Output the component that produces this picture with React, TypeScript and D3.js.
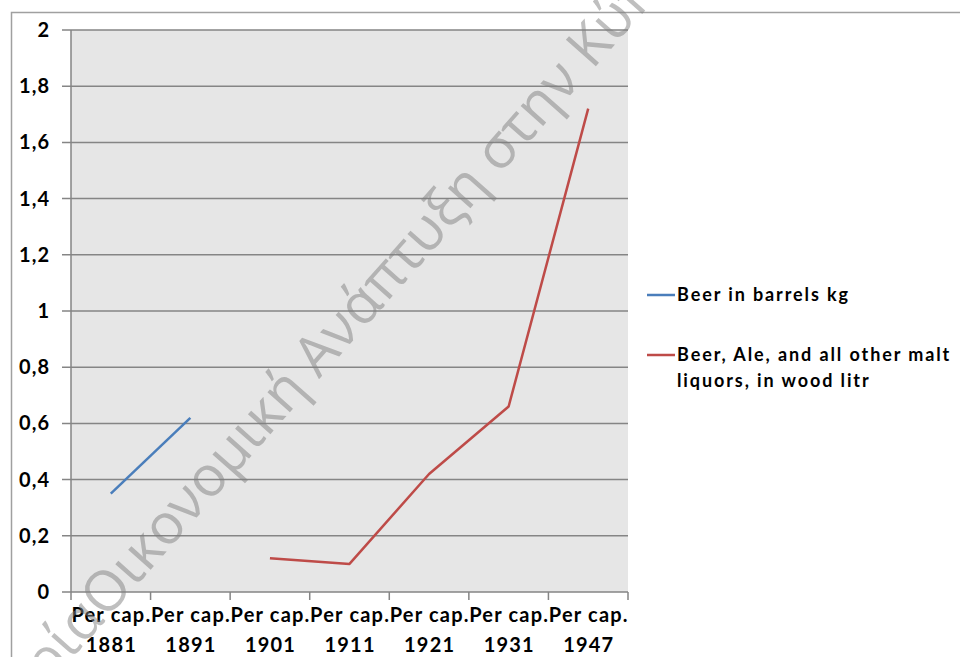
import React from "react";
import * as d3 from "d3";

const categories = ["Per cap.\n1881", "Per cap.\n1891", "Per cap.\n1901", "Per cap.\n1911", "Per cap.\n1921", "Per cap.\n1931", "Per cap.\n1947"];
const beerBarrels: (number | null)[] = [0.35, 0.62, null, null, null, null, null];
const beerAle: (number | null)[] = [null, null, 0.12, 0.1, 0.42, 0.66, 1.72];
const yTicks = [0, 0.2, 0.4, 0.6, 0.8, 1, 1.2, 1.4, 1.6, 1.8, 2];
const seriesNames = ["Beer in barrels kg", "Beer, Ale, and all other malt\nliquors, in wood litr"];
const seriesColors = ["#4a7ebb", "#be4b48"];

const W = 960, H = 657;
const plot = { left: 71, right: 628, top: 30, bottom: 592 };
const FONT = "Lato, 'Open Sans', sans-serif";

export default function App() {
  const x = d3.scaleBand<string>().domain(categories).range([plot.left, plot.right]).padding(0);
  const y = d3.scaleLinear().domain([0, 2]).range([plot.bottom, plot.top]);
  const cx = (c: string) => (x(c) as number) + x.bandwidth() / 2;
  const line = d3
    .line<number | null>()
    .defined((d) => d !== null)
    .x((_, i) => cx(categories[i]))
    .y((d) => y(d as number));
  const series = [beerBarrels, beerAle];
  const fmt = (v: number) => String(v).replace(".", ",");
  const boundaries = [...categories.map((c) => x(c) as number), plot.right];

  return (
    <svg width={W} height={H} style={{ position: "absolute", left: 0, top: 0 }} fontFamily={FONT}>
      <rect x={0} y={0} width={W} height={H} fill="#ffffff" />
      <rect x={11.5} y={12.5} width={1000} height={700} fill="none" stroke="#a0a0a0" strokeWidth={1.5} />
      <rect x={plot.left} y={plot.top} width={plot.right - plot.left} height={plot.bottom - plot.top} fill="#e6e6e6" />
      {yTicks.map((t) => (
        <g key={t}>
          <line x1={plot.left - 9} x2={plot.right} y1={y(t)} y2={y(t)} stroke="#858585" strokeWidth={1.5} />
          <text x={50} y={y(t) + 7} textAnchor="end" fontSize={20} fontWeight={700} letterSpacing={1} fill="#000">
            {fmt(t)}
          </text>
        </g>
      ))}
      <line x1={plot.left} x2={plot.left} y1={plot.top} y2={plot.bottom} stroke="#858585" strokeWidth={1.5} />
      {boundaries.map((b, i) => (
        <line key={i} x1={b} x2={b} y1={plot.bottom} y2={plot.bottom + 8} stroke="#858585" strokeWidth={1.5} />
      ))}
      {categories.map((c) => {
        const parts = c.split("\n");
        return (
          <text key={c} textAnchor="middle" fontSize={20} fontWeight={700} letterSpacing={1.2} fill="#000">
            <tspan x={cx(c) + 0.6} y={622}>{parts[0]}</tspan>
            <tspan x={cx(c) + 0.6} y={652}>{parts[1]}</tspan>
          </text>
        );
      })}
      {series.map((s, i) => (
        <path key={i} d={line(s) || ""} fill="none" stroke={seriesColors[i]} strokeWidth={2.5} strokeLinejoin="round" />
      ))}
      {seriesNames.map((n, i) => {
        const ly = i === 0 ? 295 : 355;
        const parts = n.split("\n");
        return (
          <g key={n}>
            <line x1={647} x2={675} y1={ly} y2={ly} stroke={seriesColors[i]} strokeWidth={2.5} />
            <text fontSize={18} fontWeight={700} letterSpacing={1.9} fill="#000">
              {parts.map((p, j) => (
                <tspan key={j} x={677} y={ly + 6 + j * 26}>{p}</tspan>
              ))}
            </text>
          </g>
        );
      })}
      <g transform="translate(106,620) rotate(-48.5)" fontFamily="'Open Sans', sans-serif" fontSize={56} fill="#808080" fillOpacity={0.5}>
        <text x={0} y={0} textAnchor="end">Ιστορία </text>
        <text x={0} y={0} textAnchor="start">Οικονομική Ανάπτυξη στην Κύπρο</text>
      </g>
    </svg>
  );
}
